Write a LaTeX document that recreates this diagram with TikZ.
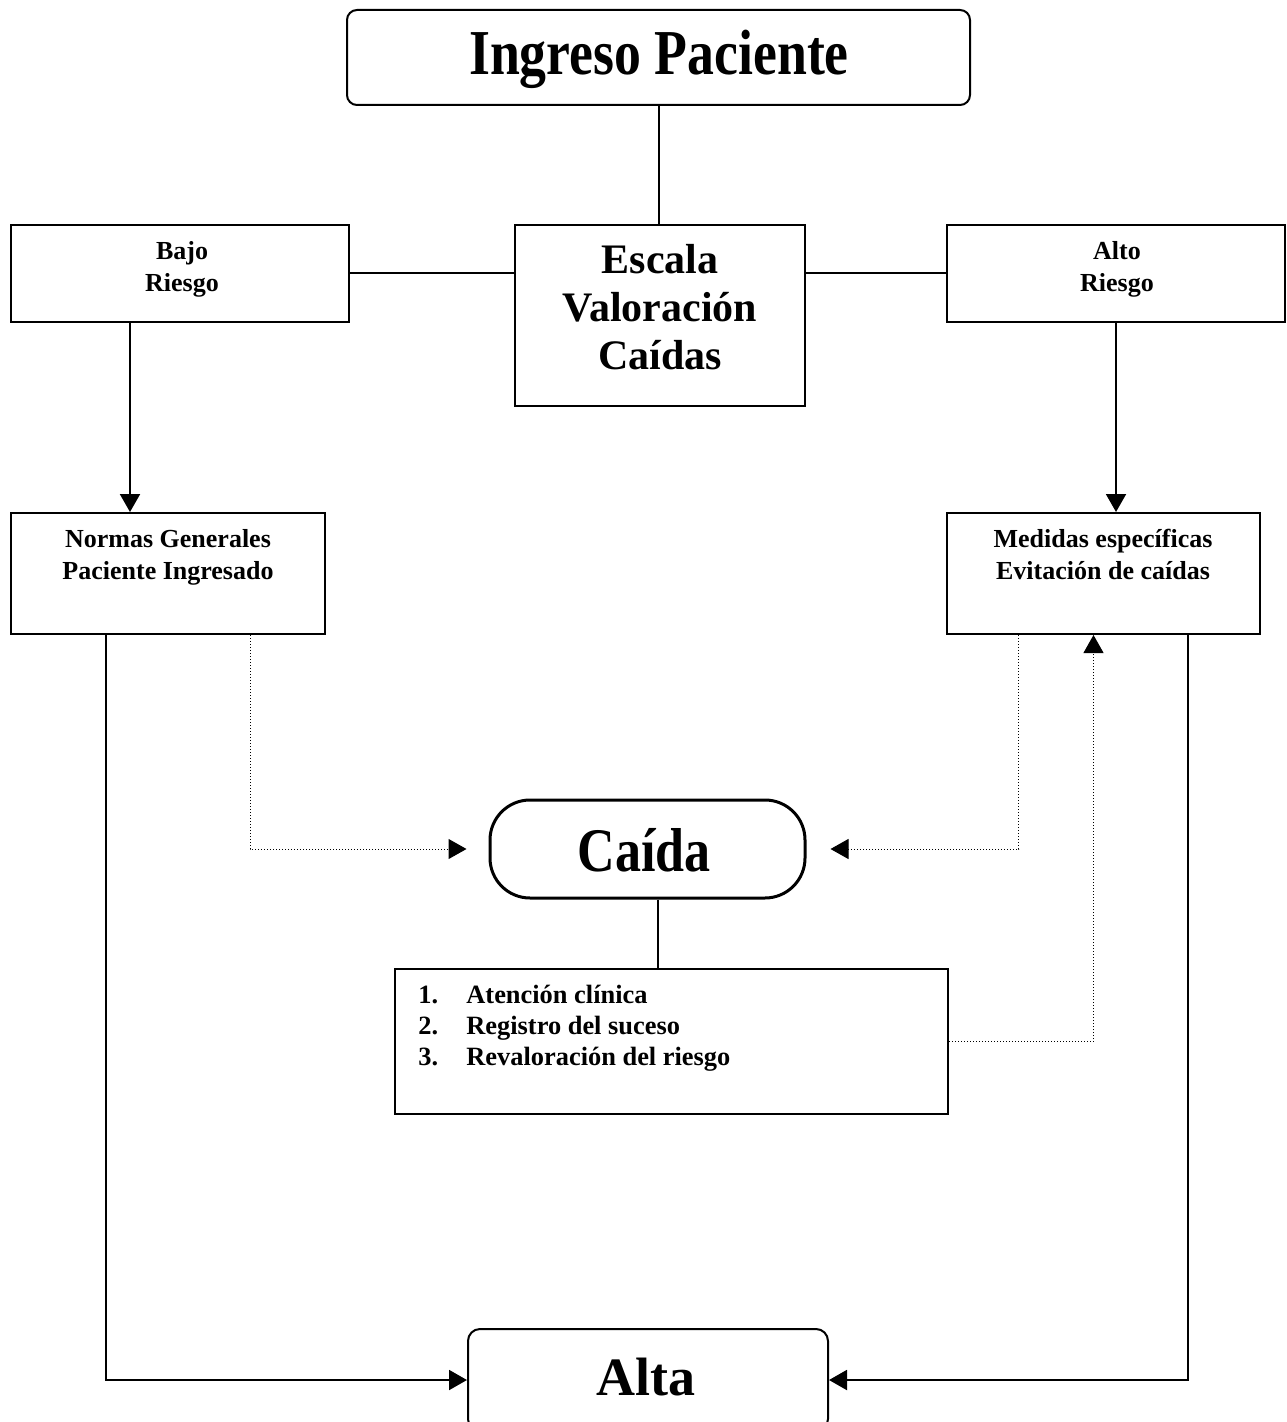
\documentclass[tikz,border=0pt]{standalone}
\usepackage{fontspec}
\setmainfont{Liberation Serif}
\newfontfamily\bigfont{Liberation Serif}[FakeStretch=0.84]
\usetikzlibrary{arrows.meta}
\usetikzlibrary{fit}

\begin{document}
\begin{tikzpicture}[x=0.5pt,y=0.5pt,yscale=-1,
  box/.style={draw, line width=1pt, inner sep=0pt},
  lbl/.style={font=\fontsize{13}{16}\selectfont\bfseries, align=center, inner sep=0pt},
  link/.style={line width=1pt},
  dots/.style={line width=0.5pt, densely dotted},
  arr/.style={-{Triangle[length=9pt,width=10pt]}}]
\clip (0,0) rectangle (1286,1422);

%Flowchart: Terminator
\node[box, rounded corners=5pt, fit={(347,10) (970,105)}] (ingreso) {};
\node[font=\bigfont\fontsize{32}{36}\selectfont\bfseries, anchor=base, inner sep=0pt] (ingresoTxt) at (659,75) {Ingreso Paciente};
%Flowchart: Process
\node[box, fit={(515,225) (805,406)}] (escala) {};
\node[font=\fontsize{21}{24}\selectfont\bfseries, align=center, inner sep=0pt] (escalaTxt) at (660,307) {Escala\\Valoración\\Caídas};
%Flowchart: Process
\node[box, fit={(11,225) (349,322)}] (bajo) {};
\node[lbl] (bajoTxt) at (182,269) {Bajo\\Riesgo};
%Flowchart: Process
\node[box, fit={(947,225) (1285,322)}] (alto) {};
\node[lbl] (altoTxt) at (1117,269) {Alto\\Riesgo};
%Flowchart: Process
\node[box, fit={(11,513) (325,634)}] (normas) {};
\node[lbl] (normasTxt) at (168,557) {Normas Generales\\Paciente Ingresado};
%Flowchart: Process
\node[box, fit={(947,513) (1260,634)}] (medidas) {};
\node[lbl] (medidasTxt) at (1103,554) {Medidas específicas\\Evitación de caídas};
%Flowchart: Terminator
\node[box, line width=1.5pt, rounded corners=20pt, fit={(490,800) (805,898)}] (caida) {};
\node[font=\bigfont\fontsize{31}{36}\selectfont\bfseries, anchor=base, inner sep=0pt] (caidaTxt) at (644,871) {Caída};
%Flowchart: Process
\node[box, fit={(395,969) (948,1114)}] (lista) {};
\node[font=\fontsize{13.2}{15.5}\selectfont\bfseries, anchor=base west, inner sep=0pt] (listaTxt) at (418,1003) {\begin{tabular}[t]{@{}p{24pt}@{}l@{}}
1. & Atención clínica\\
2. & Registro del suceso\\
3. & Revaloración del riesgo
\end{tabular}};
%Flowchart: Terminator
\node[box, rounded corners=6pt, fit={(468,1329) (828,1431)}] (alta) {};
\node[font=\fontsize{27}{32}\selectfont\bfseries, anchor=base, inner sep=0pt] (altaTxt) at (646,1395) {Alta};

%Straight Lines
\draw[link] (ingreso.south) -- (ingreso.south |- escala.north);
\draw[link] (bajo.east) -- (bajo.east -| escala.west);
\draw[link] (escala.east |- alto.west) -- (alto.west);
\draw[link, arr] ([xshift=-25pt]bajo.south) -- ([xshift=-25pt]bajo.south |- normas.north);
\draw[link, arr] (alto.south) -- (alto.south |- medidas.north);
%Straight Lines
\draw[link, arr] ([xshift=-31pt]normas.south) |- (alta.west);
\draw[link, arr] ([xshift=42pt]medidas.south) |- (alta.east);
\draw[dots, arr] ([xshift=41pt]normas.south) |- ([xshift=-11pt]caida.west);
\draw[dots, arr] ([xshift=-42.5pt]medidas.south) |- ([xshift=12pt]caida.east);
%Straight Lines
\draw[link] ([xshift=5pt]caida.south) -- ([xshift=5pt]caida.south |- lista.north);
\draw[dots, arr] (lista.east) -| ([xshift=-5pt]medidas.south);

\end{tikzpicture}
\end{document}
